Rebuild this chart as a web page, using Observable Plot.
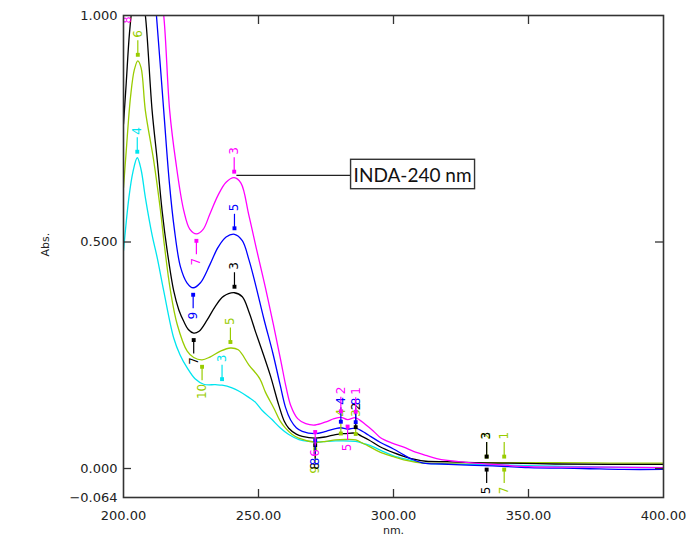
<!DOCTYPE html>
<html><head><meta charset="utf-8">
<script src="https://cdn.jsdelivr.net/npm/d3@7"></script>
<script src="https://cdn.jsdelivr.net/npm/@observablehq/plot@0.6"></script>
<style>
body{margin:0;background:#fff;}
#chart{position:relative;width:687px;height:545px;}
</style></head><body><div id="chart"></div>
<script>
// ---- data ----
const xTicks = [200, 250, 300, 350, 400];
const yTicks = [1.0, 0.5, 0.0, -0.064];
const xLabel = "nm.";
const yLabel = "Abs.";

const magenta = [[213.0,1.08],[214.9,1.0],[217.1,0.79],[219.3,0.68],[222.3,0.57],[224.6,0.528],[227.0,0.518],[229.5,0.528],[232.0,0.562],[235.0,0.603],[238.0,0.632],[241.0,0.642],[243.5,0.630],[246.4,0.560],[249.5,0.478],[252.6,0.398],[255.5,0.318],[258.2,0.240],[260.2,0.180],[262.0,0.138],[264.5,0.110],[267.5,0.099],[271.0,0.096],[275.0,0.103],[278.0,0.110],[280.5,0.113],[283.0,0.108],[286.0,0.112],[289.6,0.097],[292.5,0.083],[295.2,0.068],[299.5,0.056],[303.8,0.047],[307.4,0.038],[312.0,0.029],[316.0,0.022],[320.0,0.018],[330.0,0.012],[340.0,0.008],[350.0,0.004],[365.0,0.003],[380.0,0.003],[400.0,0.002]];
const blue = [[211.0,1.08],[212.2,1.0],[214.9,0.79],[217.0,0.63],[218.8,0.53],[221.1,0.445],[223.5,0.410],[225.8,0.399],[228.5,0.410],[232.0,0.450],[235.0,0.488],[238.0,0.511],[241.1,0.517],[244.0,0.503],[246.5,0.460],[248.9,0.406],[252.0,0.330],[255.3,0.255],[258.0,0.185],[260.0,0.135],[261.9,0.107],[264.0,0.090],[266.2,0.082],[271.0,0.077],[275.0,0.082],[278.5,0.088],[280.5,0.090],[283.0,0.087],[286.0,0.089],[289.6,0.078],[291.5,0.071],[295.0,0.058],[300.0,0.043],[303.8,0.030],[307.0,0.020],[311.0,0.012],[318.0,0.010],[330.0,0.007],[340.0,0.005],[350.0,0.002],[370.0,0.0],[385.0,-0.002],[400.0,-0.002]];
const black = [[200.0,0.76],[201.0,0.85],[202.2,0.96],[203.3,1.02],[205.0,1.06],[207.0,1.04],[208.1,1.0],[210.6,0.79],[212.5,0.68],[214.3,0.569],[216.2,0.48],[218.6,0.392],[220.5,0.350],[222.3,0.325],[224.0,0.307],[226.0,0.299],[228.0,0.303],[231.0,0.328],[234.0,0.358],[237.0,0.380],[241.1,0.388],[244.0,0.379],[246.5,0.345],[249.0,0.300],[251.4,0.259],[254.4,0.205],[257.5,0.140],[259.5,0.105],[261.2,0.089],[264.0,0.076],[266.2,0.071],[271.0,0.067],[275.0,0.070],[278.5,0.075],[282.0,0.077],[286.0,0.078],[288.0,0.072],[290.9,0.063],[295.0,0.048],[300.0,0.035],[303.8,0.027],[308.0,0.020],[312.0,0.016],[320.0,0.015],[330.0,0.013],[340.0,0.012],[360.0,0.010],[380.0,0.009],[400.0,0.009]];
const green = [[200.0,0.62],[201.0,0.70],[202.6,0.82],[204.0,0.88],[205.3,0.90],[206.5,0.885],[208.1,0.79],[211.2,0.679],[213.7,0.569],[215.2,0.49],[217.4,0.392],[219.9,0.318],[223.6,0.259],[226.0,0.245],[229.1,0.240],[232.0,0.246],[235.9,0.259],[239.6,0.266],[242.5,0.262],[246.4,0.229],[250.5,0.198],[252.6,0.168],[255.7,0.133],[258.0,0.105],[260.0,0.089],[262.5,0.075],[264.9,0.067],[271.0,0.058],[275.0,0.060],[278.5,0.063],[282.0,0.064],[286.0,0.063],[288.5,0.056],[290.9,0.049],[295.0,0.036],[300.0,0.026],[303.8,0.019],[311.0,0.012],[320.0,0.012],[334.5,0.013],[341.0,0.013],[360.0,0.013],[380.0,0.012],[400.0,0.012]];
const cyan = [[200.0,0.48],[202.0,0.598],[203.5,0.655],[205.1,0.686],[206.5,0.66],[208.1,0.598],[210.6,0.515],[212.5,0.465],[214.9,0.392],[218.6,0.288],[221.0,0.250],[223.6,0.222],[226.5,0.198],[229.7,0.186],[234.0,0.185],[236.5,0.184],[240.2,0.178],[243.0,0.170],[246.4,0.157],[248.9,0.146],[251.4,0.128],[255.0,0.108],[258.0,0.090],[261.2,0.075],[265.0,0.064],[268.6,0.060],[273.0,0.059],[278.5,0.061],[285.9,0.060],[289.0,0.055],[292.1,0.049],[296.0,0.038],[300.0,0.028],[305.0,0.020],[311.0,0.012],[320.0,0.010],[340.0,0.008],[360.0,0.005],[380.0,0.003],[400.0,0.002]];

// peak / valley picks: [nm, abs, label, side]
const magentaPicks = [[241.0,0.642,"3","up"],[227.0,0.518,"7","down"],[280.5,0.113,"2","up"],[286.0,0.112,"1","up"],[283.0,0.108,"5","down"],[271.0,0.096,"6","down"]];
const bluePicks = [[241.1,0.517,"5","up"],[225.8,0.399,"9","down"],[280.5,0.090,"4","up"],[286.0,0.089,"8","up"],[271.0,0.077,"8","down"]];
const blackPicks = [[241.1,0.388,"3","up"],[226.0,0.299,"7","down"],[286.0,0.078,"2","up"],[271.0,0.067,"8","down"],[334.5,0.013,"3","up"],[334.5,0.013,"5","down"]];
const greenPicks = [[205.3,0.900,"6","up"],[229.1,0.240,"10","down"],[239.6,0.266,"5","up"],[280.5,0.064,"4","up"],[286.0,0.063,"3","up"],[271.0,0.058,"9","down"],[334.5,0.013,"2","up"],[341.0,0.013,"1","up"],[341.0,0.013,"7","down"]];
const cyanPicks = [[205.1,0.686,"4","up"],[236.5,0.184,"3","up"]];
const offscalePicks = [["magenta",201.4,1.0,"8"]];

const callout = [{label:"INDA-240 nm", nm:241.0, abs:0.647, toNm:284.1}];

// ---- styles ----
const colors = {magenta:"#ff00ff", blue:"#0000ff", black:"#000000", green:"#99cc00", cyan:"#00e5ef"};
const series = [
  {name:"cyan", data:cyan, picks:cyanPicks},
  {name:"green", data:green, picks:greenPicks},
  {name:"black", data:black, picks:blackPicks},
  {name:"blue", data:blue, picks:bluePicks},
  {name:"magenta", data:magenta, picks:magentaPicks}
];

const W=687, H=545, mt=15, mb=48, ml=123, mr=24;
const xDom=[200,400], yDom=[-0.064,1.0];
const dY = (yDom[1]-yDom[0])/(H-mt-mb); // data units per px
const dX = (xDom[1]-xDom[0])/(W-ml-mr);
const FONT = "DejaVu Sans, Verdana, sans-serif";

const marks = [];
for (const s of series) {
  const c = colors[s.name];
  const rows = s.data.map(([nm,abs]) => ({nm, abs}));
  marks.push(Plot.line(rows, {x:"nm", y:"abs", stroke:c, strokeWidth:1.3, curve:"catmull-rom", clip:true}));
}
for (const s of series) {
  const c = colors[s.name];
  const picks = s.picks.map(([nm,abs,label,side]) => ({nm,abs,label,side}));
  const up = picks.filter(d=>d.side==="up"), down = picks.filter(d=>d.side==="down");
  marks.push(
    Plot.ruleX(up, {x:"nm", y1:d=>d.abs+6*dY, y2:d=>d.abs+20*dY, stroke:c, strokeWidth:1.2}),
    Plot.ruleX(down, {x:"nm", y1:d=>d.abs-7*dY, y2:d=>d.abs-21*dY, stroke:c, strokeWidth:1.2}),
    Plot.dot(up, {x:"nm", y:"abs", symbol:"square", r:2.2, fill:c, dy:-6}),
    Plot.dot(down, {x:"nm", y:"abs", symbol:"square", r:2.2, fill:c, dy:7}),
    Plot.text(up, {x:"nm", y:"abs", text:"label", rotate:-90, textAnchor:"start", dy:-23, fill:c, fontSize:12, fontFamily:FONT}),
    Plot.text(down, {x:"nm", y:"abs", text:"label", rotate:-90, textAnchor:"end", dy:24, fill:c, fontSize:12, fontFamily:FONT})
  );
}
const off = offscalePicks.map(([name,nm,abs,label])=>({name,nm,abs,label}));
marks.push(Plot.text(off, {x:"nm", y:"abs", text:"label", rotate:-90, textAnchor:"end", dy:1, fill:d=>colors[d.name], fontSize:11, fontFamily:FONT}));

// callout
marks.push(
  Plot.ruleY(callout, {y:"abs", x1:d=>d.nm+1, x2:"toNm", stroke:"#222", strokeWidth:1.2}),
  Plot.text(callout, {x:"toNm", y:"abs", text:"label", textAnchor:"start", dx:3, fontSize:19, fontFamily:"Lato, Open Sans, sans-serif", fill:"#111"})
);

// inner ticks
const innerX = xTicks.slice(1,-1);
const innerY = yTicks.filter(v => v > yDom[0] && v < yDom[1]);
marks.push(
  Plot.ruleX(innerX, {x:d=>d, y1:yDom[0], y2:yDom[0]+8*dY, stroke:"#333", strokeWidth:1.3}),
  Plot.ruleX(innerX, {x:d=>d, y1:yDom[1]-9*dY, y2:yDom[1], stroke:"#333", strokeWidth:1.3}),
  Plot.ruleY(innerY, {y:d=>d, x1:xDom[0], x2:xDom[0]+8*dX, stroke:"#333", strokeWidth:1.3}),
  Plot.ruleY(innerY, {y:d=>d, x1:xDom[1]-8*dX, x2:xDom[1], stroke:"#333", strokeWidth:1.3}),
  Plot.frame({stroke:"#333", strokeWidth:1.6}),
  Plot.text([xLabel], {frameAnchor:"bottom", text:d=>d, dy:36, fontSize:11, fontFamily:FONT, fill:"#222"}),
  Plot.text([yLabel], {frameAnchor:"left", text:d=>d, dx:-78, rotate:-90, fontSize:11, fontFamily:FONT, fill:"#222"})
);

const chart = Plot.plot({
  width:W, height:H, marginTop:mt, marginBottom:mb, marginLeft:ml, marginRight:mr,
  style:{fontFamily:FONT, fontSize:"13px", color:"#222", background:"#fff"},
  x:{domain:xDom, ticks:xTicks, tickFormat:d3.format(".2f"), tickSize:0, tickPadding:13, label:null},
  y:{domain:yDom, ticks:yTicks, tickFormat:d3.format(".3f"), tickSize:0, tickPadding:6, label:null},
  marks
});
document.getElementById("chart").appendChild(chart);

// box around the callout label
const svg = chart.tagName.toLowerCase()==="svg" ? chart : chart.querySelector("svg");
for (const t of svg.querySelectorAll("text")) {
  if (t.textContent === callout[0].label) {
    const b = t.getBBox();
    const r = document.createElementNS("http://www.w3.org/2000/svg","rect");
    const tx = t.getAttribute("transform");
    r.setAttribute("x", b.x-3); r.setAttribute("y", b.y + b.height/2 - 14.7);
    r.setAttribute("width", b.width+6); r.setAttribute("height", 29.4);
    if (tx) r.setAttribute("transform", tx);
    r.setAttribute("fill","#fff"); r.setAttribute("stroke","#333"); r.setAttribute("stroke-width","1.4");
    t.parentNode.insertBefore(r, t);
  }
}
</script></body></html>
